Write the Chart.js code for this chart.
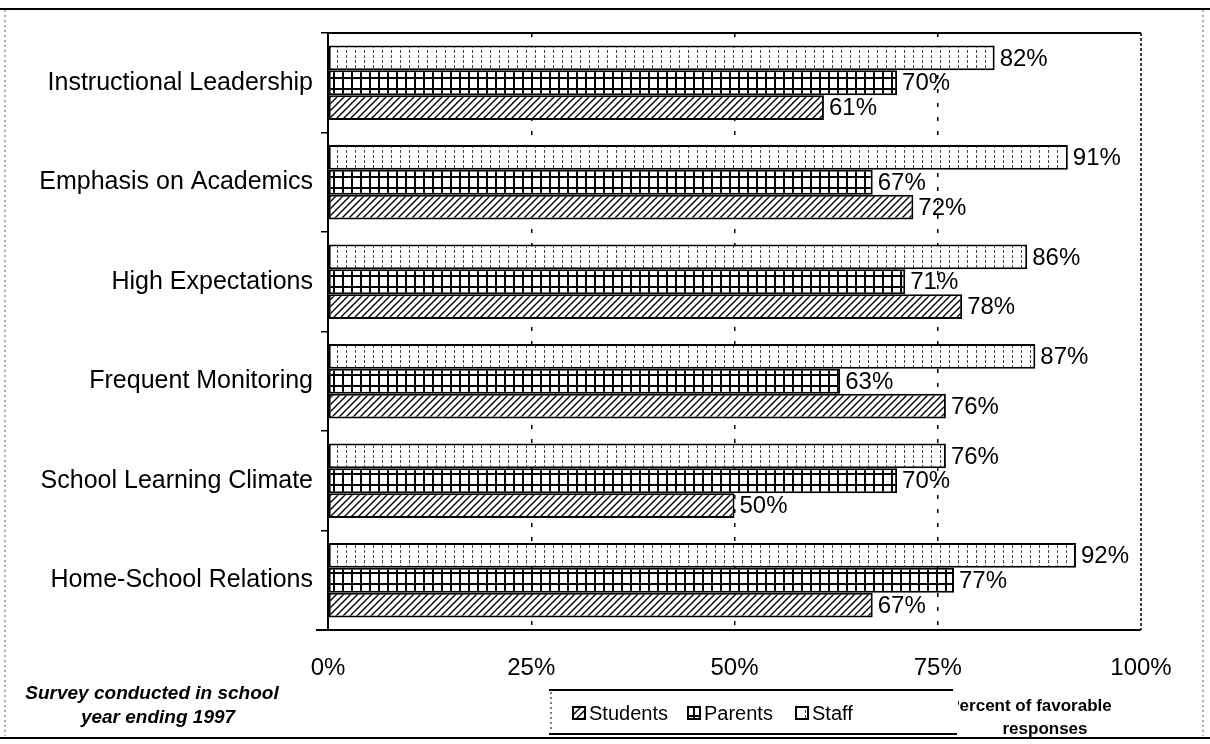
<!DOCTYPE html>
<html><head><meta charset="utf-8">
<script src="https://cdn.jsdelivr.net/npm/chart.js@4.4.1/dist/chart.umd.min.js"></script>
<style>html,body{margin:0;padding:0;background:#fff;overflow:hidden}#wrap{width:1210px;height:744px;position:relative}</style>
</head><body><div id="wrap"><canvas id="c" width="1210" height="744"></canvas></div>
<script>
const categories = ['Instructional Leadership','Emphasis on Academics','High Expectations','Frequent Monitoring','School Learning Climate','Home-School Relations'];
const staffValues = [82, 91, 86, 87, 76, 92];
const parentsValues = [70, 67, 71, 63, 70, 77];
const studentsValues = [61, 72, 78, 76, 50, 67];
const xTickLabels = ['0%','25%','50%','75%','100%'];
const seriesNames = {staff:'Staff', parents:'Parents', students:'Students'};
const axisTitleLines = ['Percent of favorable','responses'];
const noteLines = ['Survey conducted in school','year ending 1997'];

const FONT = "'Liberation Sans', Arial, Helvetica, sans-serif";

function makePattern(kind){
  const c = document.createElement('canvas');
  const g = c.getContext('2d');
  if(kind==='staff'){
    c.width=9; c.height=5;
    g.fillStyle='#fff'; g.fillRect(0,0,9,5);
    g.fillStyle='#444'; g.fillRect(4,0,1,3);
  } else if(kind==='parents'){
    c.width=9; c.height=11;
    g.fillStyle='#000'; g.fillRect(0,0,9,11);
    g.fillStyle='#fff'; g.fillRect(2,2,7,9);
  } else {
    c.width=7; c.height=7;
    g.fillStyle='#fff'; g.fillRect(0,0,7,7);
    g.strokeStyle='#000'; g.lineWidth=1.4;
    g.beginPath();
    g.moveTo(0,7); g.lineTo(7,0);
    g.moveTo(-1,1); g.lineTo(1,-1);
    g.moveTo(6,8); g.lineTo(8,6);
    g.stroke();
  }
  return c.getContext('2d').createPattern(c,'repeat');
}
const patStaff = makePattern('staff');
const patParents = makePattern('parents');
const patStudents = makePattern('students');

const decor = {
  id:'decor',
  beforeDraw(chart){
    const ctx=chart.ctx;
    ctx.save();
    ctx.fillStyle='#fff'; ctx.fillRect(0,0,chart.width,chart.height);
    ctx.restore();
  },
  afterDatasetsDraw(chart){
    const ctx=chart.ctx;
    ctx.save();
    ctx.font='24px '+FONT; ctx.fillStyle='#000';
    ctx.textBaseline='middle'; ctx.textAlign='left';
    chart.data.datasets.forEach((ds,i)=>{
      const meta=chart.getDatasetMeta(i);
      meta.data.forEach((bar,j)=>{
        ctx.fillText(ds.data[j]+'%', bar.x+5, bar.y+1);
      });
    });
    const a=chart.chartArea;
    ctx.strokeStyle='#000'; ctx.lineWidth=2;
    ctx.beginPath();
    ctx.moveTo(a.left,a.bottom); ctx.lineTo(a.left,a.top); ctx.lineTo(a.right,a.top);
    ctx.moveTo(a.left-12,a.bottom); ctx.lineTo(a.right,a.bottom);
    ctx.stroke();
    ctx.lineWidth=1.5; ctx.setLineDash([3,2]);
    ctx.beginPath(); ctx.moveTo(a.right,a.top); ctx.lineTo(a.right,a.bottom); ctx.stroke();
    ctx.restore();
  },
  afterDraw(chart){
    const ctx=chart.ctx;
    ctx.save();
    ctx.strokeStyle='#000'; ctx.lineWidth=2;
    ctx.beginPath(); ctx.moveTo(0,9); ctx.lineTo(1210,9); ctx.stroke();
    ctx.beginPath(); ctx.moveTo(0,738); ctx.lineTo(1210,738); ctx.stroke();
    ctx.lineWidth=1; ctx.setLineDash([2,3]); ctx.strokeStyle='#555';
    ctx.beginPath(); ctx.moveTo(5,10); ctx.lineTo(5,736); ctx.stroke();
    ctx.beginPath(); ctx.moveTo(1203,10); ctx.lineTo(1203,736); ctx.stroke();
    ctx.setLineDash([]);
    ctx.fillStyle='#000'; ctx.font='bold 17px '+FONT;
    ctx.textAlign='center'; ctx.textBaseline='middle';
    ctx.fillText(axisTitleLines[0], 1030, 706);
    ctx.fillText(axisTitleLines[1], 1045, 729);
    ctx.font='italic bold 19px '+FONT;
    ctx.fillText(noteLines[0], 152, 694);
    ctx.fillText(noteLines[1], 158, 718);
    const lx=549, ly=690, lw=404, lh=44;
    ctx.fillStyle='#fff'; ctx.fillRect(lx,ly,lw+5,lh);
    ctx.strokeStyle='#000'; ctx.lineWidth=2;
    ctx.beginPath(); ctx.moveTo(lx,ly); ctx.lineTo(lx+lw,ly); ctx.stroke();
    ctx.beginPath(); ctx.moveTo(lx,ly+lh); ctx.lineTo(lx+lw+4,ly+lh); ctx.stroke();
    ctx.lineWidth=1; ctx.setLineDash([2,3]);
    ctx.beginPath(); ctx.moveTo(lx+2,ly+2); ctx.lineTo(lx+2,ly+lh-2); ctx.stroke();
    ctx.setLineDash([]);
    const items=chart.data.datasets.slice().reverse();
    const iconX=[573,688,796];
    ctx.font='20px '+FONT; ctx.textAlign='left'; ctx.textBaseline='middle';
    items.forEach((ds,k)=>{
      const x=iconX[k], y=713;
      ctx.fillStyle=ds.backgroundColor;
      ctx.fillRect(x,y-6,12,12);
      ctx.lineWidth=2; ctx.strokeStyle='#000';
      ctx.strokeRect(x,y-6,12,12);
      ctx.fillStyle='#000';
      ctx.fillText(ds.label, x+16, y+1);
    });
    ctx.restore();
  }
};

new Chart(document.getElementById('c'),{
  type:'bar',
  data:{
    labels:categories,
    datasets:[
      {label:seriesNames.staff, data:staffValues, backgroundColor:patStaff},
      {label:seriesNames.parents, data:parentsValues, backgroundColor:patParents},
      {label:seriesNames.students, data:studentsValues, backgroundColor:patStudents}
    ]
  },
  options:{
    indexAxis:'y',
    responsive:false,
    animation:false,
    devicePixelRatio:1,
    layout:{padding:{top:33,right:69,left:0,bottom:0}},
    datasets:{bar:{borderColor:'#000',borderWidth:2,borderSkipped:false,categoryPercentage:0.75,barPercentage:1.0}},
    plugins:{legend:{display:false},tooltip:{enabled:false}},
    scales:{
      x:{
        min:0,max:100,
        afterFit(s){s.height=114;},
        grid:{
          drawTicks:false,
          color:(c)=> (c.tick && c.tick.value>0 && c.tick.value<100) ? '#000' : 'rgba(0,0,0,0)',
          lineWidth:1.5
        },
        border:{display:false,dash:[4,10]},
        ticks:{stepSize:25,padding:24,color:'#000',font:{family:FONT,size:24},
          callback:(v)=>xTickLabels[Math.round(v/25)]}
      },
      y:{
        afterFit(s){s.width=328;},
        border:{display:false},
        grid:{drawOnChartArea:false,drawTicks:true,tickLength:7,color:'#000',lineWidth:1.5,offset:true},
        ticks:{padding:8,color:'#000',font:{family:FONT,size:25}}
      }
    }
  },
  plugins:[decor]
});
</script></body></html>
